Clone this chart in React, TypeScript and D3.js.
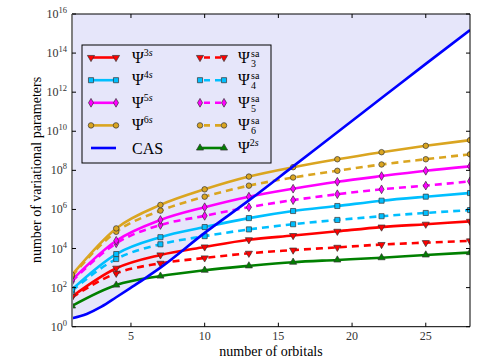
import * as d3 from 'd3';

// orbital counts where the markers sit
const orbitals = [1, 4, 7, 10, 13, 16, 19, 22, 25, 28];

const psi3s  = [35, 980, 4.7e3, 1.2e4, 2.8e4, 4.6e4, 7.6e4, 1.25e5, 1.75e5, 2.45e5];
const psi3sa = [32, 540, 1.75e3, 3.3e3, 5.7e3, 8.3e3, 1.15e4, 1.6e4, 2.0e4, 2.45e4];
const psi4s  = [81, 5.2e3, 3.8e4, 1.25e5, 3.6e5, 8.3e5, 1.5e6, 2.8e6, 4.5e6, 6.9e6];
const psi4sa = [70, 2.9e3, 1.65e4, 4.3e4, 9.5e4, 1.75e5, 2.9e5, 4.5e5, 6.6e5, 9.3e5];
const psi5s  = [245, 2.5e4, 2.9e5, 1.3e6, 4.5e6, 1.15e7, 2.6e7, 5.1e7, 9.5e7, 1.6e8];
const psi5sa = [210, 1.85e4, 1.6e5, 4.7e5, 1.3e6, 3.0e6, 6.0e6, 1.07e7, 1.65e7, 2.75e7];
const psi6s  = [450, 1.07e5, 1.7e6, 1.07e7, 4.8e7, 1.45e8, 3.7e8, 8.5e8, 1.8e9, 3.5e9];
const psi6sa = [400, 7.2e4, 8.7e5, 4.5e6, 1.65e7, 4.3e7, 9.5e7, 2.0e8, 3.7e8, 6.6e8];
const psi2s  = [11.5, 135, 390, 780, 1.3e3, 2.0e3, 2.6e3, 3.4e3, 4.7e3, 6.2e3];

// CAS has no markers, read at more points near the start
const casOrbitals = [1, 2, 3, 4, 5, 6, 7, 10, 13, 16, 19, 22, 25, 28];
const casValues   = [2.7, 4.5, 10.5, 32, 100, 316, 1.05e3, 6.3e4, 2.9e6, 1.6e8, 9.0e9, 5.0e11, 2.8e13, 1.5e15];

const xTicks = [5, 10, 15, 20, 25];
const yExponents = [0, 2, 4, 6, 8, 10, 12, 14, 16];

type Shape = 'tri-down' | 'square' | 'diamond' | 'circle' | 'tri-up' | 'none';

const series: {key: string, values: number[], color: string, dashed: boolean, shape: Shape}[] = [
	{key: 'psi2s', values: psi2s, color: '#008000', dashed: false, shape: 'tri-up'}
	, {key: 'psi3sa', values: psi3sa, color: '#ff0000', dashed: true, shape: 'tri-down'}
	, {key: 'psi3s', values: psi3s, color: '#ff0000', dashed: false, shape: 'tri-down'}
	, {key: 'psi4sa', values: psi4sa, color: '#00bfff', dashed: true, shape: 'square'}
	, {key: 'psi4s', values: psi4s, color: '#00bfff', dashed: false, shape: 'square'}
	, {key: 'psi5sa', values: psi5sa, color: '#ff00ff', dashed: true, shape: 'diamond'}
	, {key: 'psi5s', values: psi5s, color: '#ff00ff', dashed: false, shape: 'diamond'}
	, {key: 'psi6sa', values: psi6sa, color: '#daa520', dashed: true, shape: 'circle'}
	, {key: 'psi6s', values: psi6s, color: '#daa520', dashed: false, shape: 'circle'}
];

const W = 480, H = 360;
const left = 72, right = 470, top = 14, bottom = 326.7;
const font = '"Liberation Serif", "DejaVu Serif", serif';

function markerPath(shape: Shape){
	if(shape === 'tri-down' || shape === 'tri-up') return d3.symbol(d3.symbolTriangle, 22)();
	if(shape === 'square') return d3.symbol(d3.symbolSquare, 26)();
	if(shape === 'diamond') return d3.symbol(d3.symbolDiamond, 22)();
	if(shape === 'circle') return d3.symbol(d3.symbolCircle, 24)();
	return '';
}

function Marker({x, y, shape, color}: {x: number, y: number, shape: Shape, color: string}){
	if(shape === 'none') return null;
	const rot = shape === 'tri-down' ? ' rotate(180)' : '';
	return <path d={markerPath(shape) || ''}
	             transform={`translate(${x},${y})${rot}`}
	             fill={color}
	             stroke="#333"
	             strokeWidth={0.7}/>;
}

function PsiLabel({x, y, n, sa}: {x: number, y: number, n: string, sa: boolean}){
	if(sa){
		return (<g fontFamily={font}>
			<text x={x} y={y} fontSize={16}>Ψ</text>
			<text x={x + 13} y={y - 6} fontSize={10}>sa</text>
			<text x={x + 13} y={y + 4} fontSize={10}>{n}</text>
		</g>);
	}
	return (<text x={x} y={y} fontFamily={font} fontSize={16}>
		Ψ<tspan dy={-7} fontSize={10}>{n}</tspan><tspan fontSize={10} fontStyle="italic">s</tspan>
	</text>);
}

export default function App(){
	const x = d3.scaleLinear().domain([1, 28]).range([left, right])
		, y = d3.scaleLog().domain([1, 1e16]).range([bottom, top])
		, line = d3.line<[number, number]>().x(d => x(d[0])).y(d => y(d[1])).curve(d3.curveMonotoneX)
		, casPts = casOrbitals.map((o, i) => [o, casValues[i]] as [number, number])
		, casArea = d3.area<[number, number]>().x(d => x(d[0])).y0(y(1e16)).y1(d => y(d[1])).curve(d3.curveMonotoneX)
		;

	// legend layout
	const rows = [57.5, 80.2, 102.8, 125.4, 148]
		, legendItems = [
			{col: 0, row: 0, color: '#ff0000', dashed: false, shape: 'tri-down' as Shape, n: '3', sa: false}
			, {col: 0, row: 1, color: '#00bfff', dashed: false, shape: 'square' as Shape, n: '4', sa: false}
			, {col: 0, row: 2, color: '#ff00ff', dashed: false, shape: 'diamond' as Shape, n: '5', sa: false}
			, {col: 0, row: 3, color: '#daa520', dashed: false, shape: 'circle' as Shape, n: '6', sa: false}
			, {col: 1, row: 0, color: '#ff0000', dashed: true, shape: 'tri-down' as Shape, n: '3', sa: true}
			, {col: 1, row: 1, color: '#00bfff', dashed: true, shape: 'square' as Shape, n: '4', sa: true}
			, {col: 1, row: 2, color: '#ff00ff', dashed: true, shape: 'diamond' as Shape, n: '5', sa: true}
			, {col: 1, row: 3, color: '#daa520', dashed: true, shape: 'circle' as Shape, n: '6', sa: true}
			, {col: 1, row: 4, color: '#008000', dashed: false, shape: 'tri-up' as Shape, n: '2', sa: false}
		]
		, colX = [[91, 116, 132], [200, 224, 238]]
		;

	return (<svg width={W} height={H} style={{position: 'absolute', left: 0, top: 0, background: '#fff'}}>
		<defs>
			<clipPath id="plot">
				<rect x={left} y={top} width={right - left} height={bottom - top}/>
			</clipPath>
		</defs>
		<g clipPath="url(#plot)">
			<path d={casArea(casPts) || ''} fill="#e6e6fa"/>
			{series.map(s => {
				const pts = orbitals.map((o, i) => [o, s.values[i]] as [number, number]);
				return (<g key={s.key}>
					<path d={line(pts) || ''}
					      fill="none"
					      stroke={s.color}
					      strokeWidth={2.6}
					      strokeDasharray={s.dashed ? '7 5' : undefined}/>
					{pts.map((p, i) => <Marker key={i} x={x(p[0])} y={y(p[1])} shape={s.shape} color={s.color}/>)}
				</g>);
			})}
			<path d={line(casPts) || ''} fill="none" stroke="#0000ff" strokeWidth={2.6}/>
		</g>

		{/* frame */}
		<line x1={left} x2={right} y1={top} y2={top} stroke="#000" strokeWidth={1}/>
		<line x1={left} x2={right} y1={bottom} y2={bottom} stroke="#000" strokeWidth={1}/>
		<line x1={right} x2={right} y1={top} y2={bottom} stroke="#000" strokeWidth={1}/>
		<line x1={left} x2={left} y1={top} y2={bottom} stroke="#808080" strokeWidth={2}/>

		{/* ticks */}
		{xTicks.map(t => (<g key={t}>
			<line x1={x(t)} x2={x(t)} y1={bottom} y2={bottom - 4} stroke="#000"/>
			<line x1={x(t)} x2={x(t)} y1={top} y2={top + 4} stroke="#000"/>
			<text x={x(t)} y={bottom + 13} textAnchor="middle" fontFamily={font} fontSize={12} fill="#333">{t}</text>
		</g>))}
		{yExponents.map(e => {
			const yy = y(Math.pow(10, e));
			return (<g key={e}>
				<line x1={left} x2={left + 4} y1={yy} y2={yy} stroke="#000"/>
				<line x1={right} x2={right - 4} y1={yy} y2={yy} stroke="#000"/>
				<text x={67} y={yy + 4} textAnchor="end" fontFamily={font} fontSize={12} fill="#333">
					10<tspan dy={-5} fontSize={8.5}>{e}</tspan>
				</text>
			</g>);
		})}

		{/* axis titles */}
		<text x={271} y={356} textAnchor="middle" fontFamily={font} fontSize={14}>number of orbitals</text>
		<text transform="translate(41,170) rotate(-90)" textAnchor="middle" fontFamily={font} fontSize={14}>number of variational parameters</text>

		{/* legend */}
		<rect x={82} y={45} width={189} height={118} fill="none" stroke="#000" strokeWidth={1}/>
		{legendItems.map((it, i) => {
			const [x1, x2, tx] = colX[it.col], yy = rows[it.row];
			return (<g key={i}>
				<line x1={x1} x2={x2} y1={yy} y2={yy} stroke={it.color} strokeWidth={2.6}
				      strokeDasharray={it.dashed ? '6 5' : undefined}
				      strokeDashoffset={it.dashed ? -4 : 0}/>
				<Marker x={x1} y={yy} shape={it.shape} color={it.color}/>
				<Marker x={x2} y={yy} shape={it.shape} color={it.color}/>
				<PsiLabel x={tx} y={yy + 5} n={it.n} sa={it.sa}/>
			</g>);
		})}
		<line x1={colX[0][0]} x2={colX[0][1]} y1={rows[4]} y2={rows[4]} stroke="#0000ff" strokeWidth={2.6}/>
		<text x={colX[0][2]} y={rows[4] + 6} fontFamily={font} fontSize={16}>CAS</text>
	</svg>);
}
